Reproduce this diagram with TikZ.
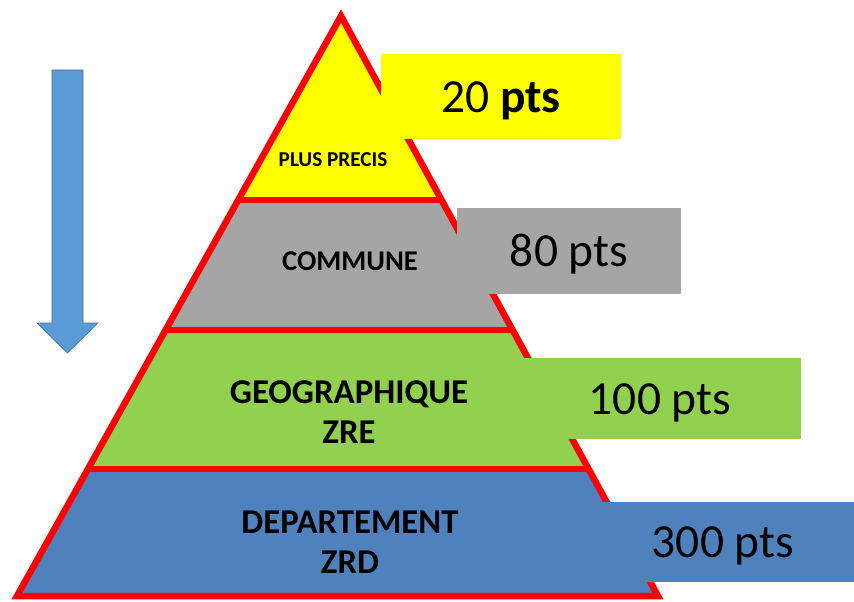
\documentclass[tikz,border=0pt]{standalone}
\usepackage{fontspec}
\setmainfont{Carlito}
\usetikzlibrary{calc}

\definecolor{rouge}{HTML}{FF0000}
\definecolor{jaune}{HTML}{FFFF00}
\definecolor{gris}{HTML}{A5A5A5}
\definecolor{vert}{HTML}{92D050}
\definecolor{bleu}{HTML}{4F81BD}
\definecolor{fleche}{HTML}{5B9BD5}
\definecolor{flechebord}{HTML}{41719C}

\begin{document}
\begin{tikzpicture}[x=1pt,y=-1pt]

  \tikzstyle{contour}=[draw=rouge,line width=6.5pt,line join=miter]
  \tikzstyle{niveau}=[inner sep=0pt,align=center,font=\bfseries\fontsize{34.8}{40}\selectfont]
  \tikzstyle{score}=[inner sep=0pt,text height=31pt,text depth=0pt,font=\fontsize{47.5}{56}\selectfont]

  \useasboundingbox (0,0) rectangle (854,602);

  \begin{scope}

    \coordinate (apex) at (341,16);
    \coordinate (bl) at (17,596);
    \coordinate (br) at (658,596);
    \coordinate (l1) at ($(apex)!0.3172!(bl)$);
    \coordinate (r1) at ($(apex)!0.3172!(br)$);
    \coordinate (l2) at ($(apex)!0.5414!(bl)$);
    \coordinate (r2) at ($(apex)!0.5414!(br)$);
    \coordinate (l3) at ($(apex)!0.7810!(bl)$);
    \coordinate (r3) at ($(apex)!0.7810!(br)$);

    % bandes
    \fill [jaune] (apex) -- (l1) -- (r1) -- cycle;
    \fill [gris] (l1) -- (l2) -- (r2) -- (r1) -- cycle;
    \fill [vert] (l2) -- (l3) -- (r3) -- (r2) -- cycle;
    \fill [bleu] (l3) -- (bl) -- (br) -- (r3) -- cycle;

    \draw [contour] (apex) -- (bl) -- (br) -- cycle;
    \draw [contour] (l1) -- (r1);
    \draw [contour] (l2) -- (r2);
    \draw [contour] (l3) -- (r3);

    \node [niveau,font=\bfseries\fontsize{21.2}{24}\selectfont,text height=13pt,text depth=0pt] (n1) at (333,159.5) {PLUS PRECIS};
    \node [niveau,font=\bfseries\fontsize{28.6}{32}\selectfont,text height=17pt,text depth=0pt] (n2) at (350,261.5) {COMMUNE};
    \node [niveau] (n3) at (349,412.5) {GEOGRAPHIQUE\\ZRE};
    \node [niveau] (n4) at (350,542.5) {DEPARTEMENT\\ZRD};

    % points
    \node [score,fill=jaune,minimum width=240pt,minimum height=85pt] (p1) at (501,96.5) {20 \textbf{pts}};
    \node [score,fill=gris,minimum width=224pt,minimum height=86pt] (p2) at (569,251) {80 pts};
    \node [score,fill=vert,minimum width=282pt,minimum height=81pt] (p3) at (660,398.5) {100 pts};
    \node [score,fill=bleu,minimum width=262pt,minimum height=80pt] (p4) at (723,542) {300 pts};

    % fleche
    \draw [fill=fleche,draw=flechebord,line width=0.6pt]
      (52,70) -- (83,70) -- (83,323) -- (98,323) -- (67.5,353) -- (37,323) -- (52,323) -- cycle;

  \end{scope}

\end{tikzpicture}
\end{document}
